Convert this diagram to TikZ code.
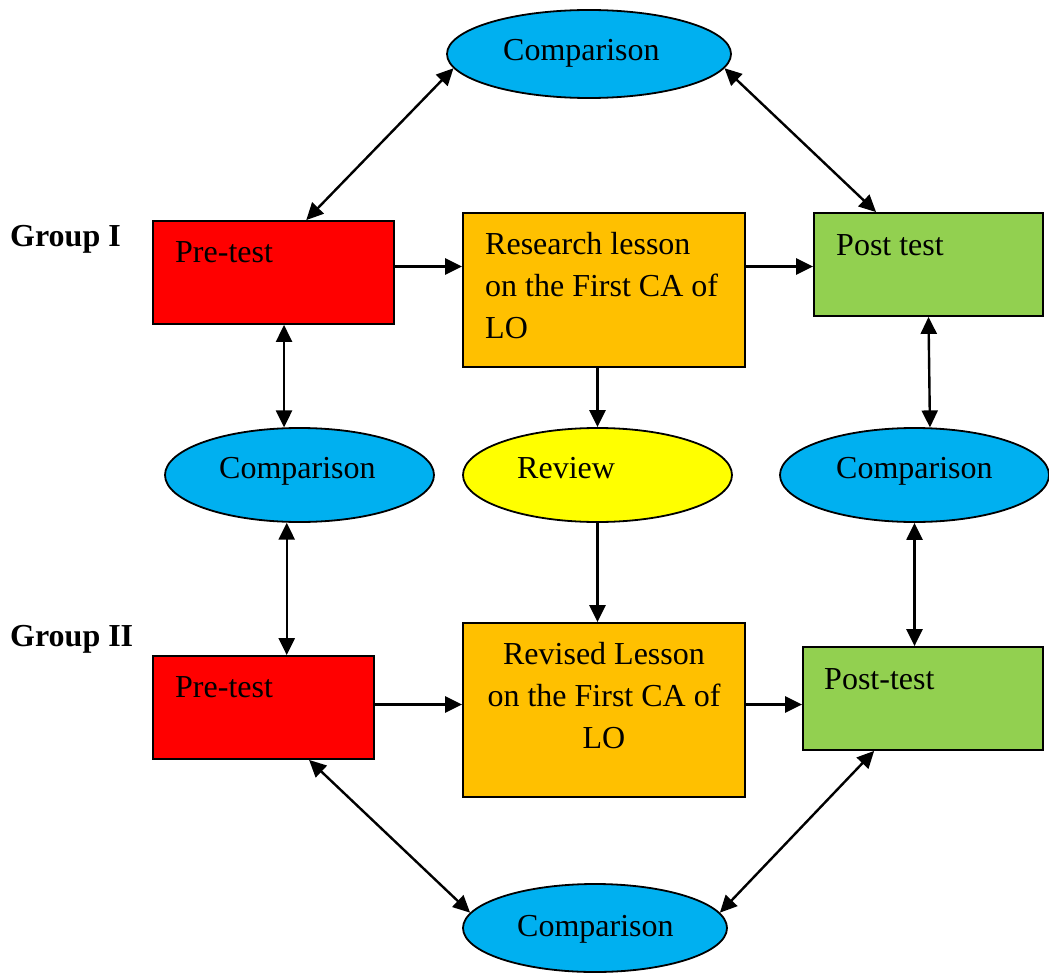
\documentclass[tikz,border=0pt]{standalone}
\usepackage{fontspec}
\setmainfont{Liberation Serif}
\usetikzlibrary{arrows.meta,shapes.geometric}
\definecolor{cblue}{HTML}{00B0F0}
\definecolor{corange}{HTML}{FFC000}
\definecolor{cgreen}{HTML}{92D050}
\definecolor{cred}{HTML}{FF0000}
\definecolor{cyellow}{HTML}{FFFF00}
\begin{document}
\begin{tikzpicture}[x=1pt,y=-1pt,
  box/.style={draw=black,line width=1.8pt,rectangle,inner sep=0pt},
  ell/.style={draw=black,line width=1.8pt,ellipse,inner sep=0pt},
  txt/.style={font=\fontsize{32}{42}\selectfont,inner sep=0pt,anchor=base west},
  tip/.tip={Triangle[length=17pt,width=16pt]},
  arr/.style={line width=2.4pt,-tip},
  darr/.style={line width=2.4pt,tip-tip}]
\useasboundingbox (0,0) rectangle (1049,974);
% shapes
\node[ell,fill=cblue,minimum width=284pt,minimum height=88pt] (cmpT) at (589,54) {};
\node[box,fill=cred,minimum width=241pt,minimum height=103pt] (pre1) at (273.5,272.5) {};
\node[box,fill=corange,minimum width=282pt,minimum height=154pt] (res) at (604,290) {};
\node[box,fill=cgreen,minimum width=229pt,minimum height=103pt] (post1) at (928.5,264.5) {};
\node[ell,fill=cblue,minimum width=269pt,minimum height=94pt] (cmpL) at (299.5,475) {};
\node[ell,fill=cyellow,minimum width=269pt,minimum height=94pt] (rev) at (597.5,475) {};
\node[ell,fill=cblue,minimum width=269pt,minimum height=94pt] (cmpR) at (914.5,475) {};
\node[box,fill=cred,minimum width=221pt,minimum height=103pt] (pre2) at (263.5,707.5) {};
\node[box,fill=corange,minimum width=282pt,minimum height=174pt] (rev2) at (604,710) {};
\node[box,fill=cgreen,minimum width=240pt,minimum height=103pt] (post2) at (923,698.5) {};
\node[ell,fill=cblue,minimum width=264pt,minimum height=88pt] (cmpB) at (595,928) {};
% texts
\node[txt] (tcmpT) at (503,60) {Comparison};
\node[txt,font=\fontsize{32}{42}\selectfont\bfseries] (g1) at (10,246) {Group I};
\node[txt,font=\fontsize{32}{42}\selectfont\bfseries] (g2) at (10,646) {Group II};
\node[txt] (tpre1) at (175,262) {Pre-test};
\node[txt,align=left] (tres) at (485,338) {Research lesson\\on the First CA of\\LO};
\node[txt] (tpost1) at (836,255) {Post test};
\node[txt] (tcmpL) at (219,478) {Comparison};
\node[txt] (trev) at (517,478) {Review};
\node[txt] (tcmpR) at (836,478) {Comparison};
\node[txt] (tpre2) at (175,697) {Pre-test};
\node[txt,align=center,anchor=base] (trev2) at (604,748) {Revised Lesson\\on the First CA of\\LO};
\node[txt] (tpost2) at (824,689) {Post-test};
\node[txt] (tcmpB) at (517,936) {Comparison};
% connectors
\draw[darr] (cmpT.186) -- (pre1.58.5);
\draw[darr] (cmpT.354) -- (post1.135);
\draw[arr] ([yshift=6pt]pre1.east) -- ([yshift=6pt]pre1.east -| res.west);
\draw[arr] ([yshift=-2pt]post1.west -| res.east) -- ([yshift=-2pt]post1.west);
\draw[darr] (cmpL.108.6 |- pre1.south) -- (cmpL.108.6);
\draw[arr] (rev.north |- res.south) -- (rev.north);
\draw[darr] (post1.south) -- (cmpR.72);
\draw[darr] (cmpL.255) -- (cmpL.255 |- pre2.north);
\draw[arr] (rev.south) -- (rev.south |- rev2.north);
\draw[darr] (cmpR.south) -- (cmpR.south |- post2.north);
\draw[arr] ([yshift=3pt]pre2.east) -- ([yshift=3pt]pre2.east -| rev2.west);
\draw[arr] ([yshift=3pt]pre2.east -| rev2.east) -- ([yshift=3pt]pre2.east -| post2.west);
\draw[darr] (pre2.-49.2) -- (cmpB.173);
\draw[darr] (post2.227) -- (cmpB.7);
\end{tikzpicture}
\end{document}
